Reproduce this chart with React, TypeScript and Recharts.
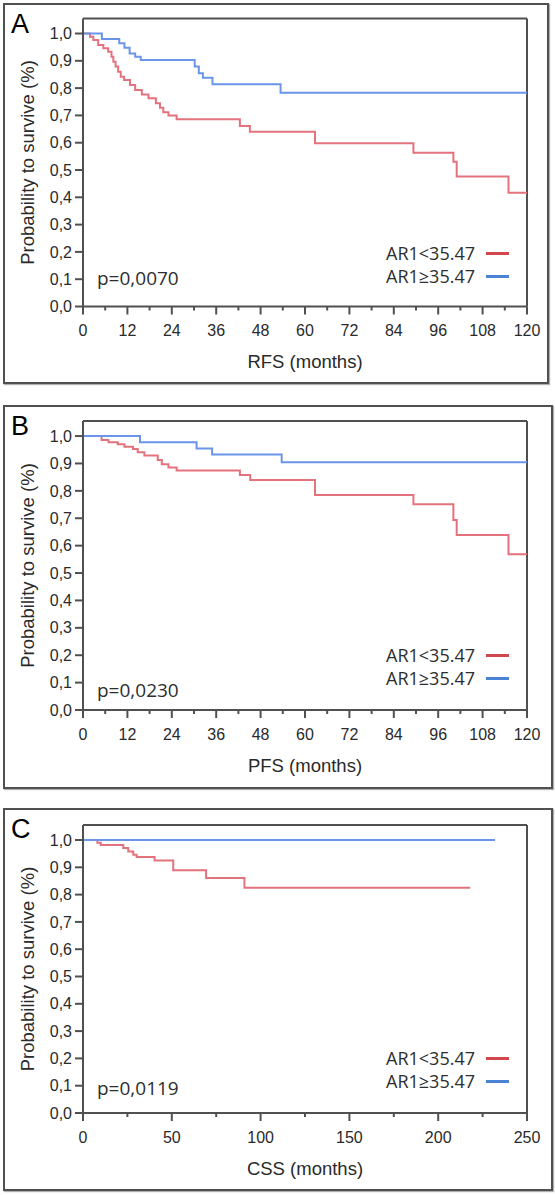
import React from 'react';
import { LineChart, Line, XAxis, YAxis, ReferenceLine, Legend } from 'recharts';

// Kaplan-Meier curves: [months, survival probability]
const groupNames = ['AR1<35.47', 'AR1≥35.47'];
const curveColors = ['#e4727c', '#6a95e8'];
const swatchColors = ['#d2464e', '#4a82d6'];

const survivalTicks = [0, 0.1, 0.2, 0.3, 0.4, 0.5, 0.6, 0.7, 0.8, 0.9, 1];
const monthTicks = [0, 6, 12, 18, 24, 30, 36, 42, 48, 54, 60, 66, 72, 78, 84, 90, 96, 102, 108, 114, 120];
const cssTicks = [0, 25, 50, 75, 100, 125, 150, 175, 200, 225, 250];

const rfsLow: [number, number][] = [
  [0, 1], [1.9, 0.988], [2.8, 0.976], [4.1, 0.958], [5.5, 0.946], [6.8, 0.933], [7.7, 0.915],
  [8.2, 0.897], [8.8, 0.879], [9.5, 0.86], [10.2, 0.842], [11.1, 0.83], [12.7, 0.811],
  [14.1, 0.793], [15.9, 0.777], [17.7, 0.763], [19.7, 0.745], [20.8, 0.728], [21.7, 0.712],
  [23.1, 0.7], [25.3, 0.686], [42.4, 0.661], [45.1, 0.64], [62.7, 0.598], [89.3, 0.563],
  [100.1, 0.53], [101, 0.476], [115, 0.417], [120, 0.417],
];
const rfsHigh: [number, number][] = [
  [0, 1], [5.1, 0.98], [9.8, 0.964], [11.2, 0.948], [12.6, 0.927], [14.1, 0.915], [15.6, 0.903],
  [30.2, 0.879], [31.3, 0.854], [32.4, 0.838], [35, 0.814], [53.4, 0.783], [120, 0.783],
];
const pfsLow: [number, number][] = [
  [0, 1], [5, 0.986], [6.9, 0.977], [9.4, 0.97], [11.2, 0.961], [13.5, 0.953], [14.8, 0.941],
  [16.6, 0.929], [20.2, 0.913], [21.3, 0.897], [23.1, 0.885], [25.3, 0.874], [42.4, 0.858],
  [45.2, 0.84], [62.7, 0.785], [89.3, 0.751], [100.1, 0.694], [101, 0.639], [115, 0.569],
  [120, 0.569],
];
const pfsHigh: [number, number][] = [
  [0, 1], [15.4, 0.977], [30.7, 0.955], [34.9, 0.933], [53.7, 0.904], [120, 0.904],
];
const cssLow: [number, number][] = [
  [0, 1], [8.1, 0.99], [10, 0.982], [22.7, 0.971], [25.5, 0.958], [28.3, 0.946], [30.2, 0.938],
  [40.3, 0.925], [50.8, 0.889], [69.3, 0.861], [90.9, 0.825], [218, 0.825],
];
const cssHigh: [number, number][] = [
  [0, 1], [232, 1],
];

const panelLetters = ['A', 'B', 'C'];
const axisTitles = ['RFS (months)', 'PFS (months)', 'CSS (months)'];
const pValues = ['p=0,0070', 'p=0,0230', 'p=0,0119'];

const toRows = (pts: [number, number][]) => pts.map(([t, s]) => ({ t, s }));

const panels = [
  { low: rfsLow, high: rfsHigh, ticks: monthTicks, major: 12, xMax: 120,
    frameTop: 3, frameBottom: 384, frameRight: 549, plotTop: 18.5, axisY: 306.5, pY: 278, legendY: 253 },
  { low: pfsLow, high: pfsHigh, ticks: monthTicks, major: 12, xMax: 120,
    frameTop: 405, frameBottom: 789, frameRight: 553, plotTop: 421, axisY: 710, pY: 690, legendY: 655 },
  { low: cssLow, high: cssHigh, ticks: cssTicks, major: 50, xMax: 250,
    frameTop: 808, frameBottom: 1191, frameRight: 553, plotTop: 825, axisY: 1113, pY: 1088, legendY: 1058 },
];

const W = 555;
const PLOT_LEFT = 83;
const PLOT_RIGHT = 527;
const AXIS = '#505050';
const TICK_FONT = { fontFamily: '"Liberation Sans", Arial, sans-serif', fontSize: 16, fill: '#2a2a2a' };
const SEGOE = '"Open Sans", "Noto Sans", sans-serif';

const XTick = (props: any) => {
  const { x, y, payload, major } = props;
  const isMajor = payload.value % major === 0;
  return (
    <g>
      <line x1={x} x2={x} y1={y} y2={y + (isMajor ? 8 : 4)} stroke={AXIS} strokeWidth={2} />
      {isMajor && (
        <text x={x} y={y + 24} textAnchor="middle" dominantBaseline="central" {...TICK_FONT}>
          {payload.value}
        </text>
      )}
    </g>
  );
};

const KMLegend = ({ top }: { top: number }) => (
  <div style={{ position: 'relative', width: W, height: 0 }}>
    {groupNames.map((name, i) => (
      <React.Fragment key={name}>
        <div
          style={{
            position: 'absolute', right: W - 475, top: top + i * 23 - 9, lineHeight: '18px',
            fontFamily: SEGOE, fontSize: 18, color: '#2e2e2e', whiteSpace: 'nowrap',
          }}
        >
          {name}
        </div>
        <div
          style={{
            position: 'absolute', left: 486, width: 23, height: 3, top: top + i * 23 - 1.5,
            background: swatchColors[i],
          }}
        />
      </React.Fragment>
    ))}
  </div>
);

const Panel = ({ idx }: { idx: number }) => {
  const p = panels[idx];
  const height = p.frameBottom - p.frameTop;
  const xAxisHeight = p.frameBottom - p.axisY;
  const rel = (pageY: number) => pageY - p.frameTop;
  const plotMid = rel((p.plotTop + p.axisY) / 2);

  return (
    <>
      <div
        style={{
          position: 'absolute', left: 3, top: p.frameTop, width: p.frameRight - 3, height,
          border: `2px solid ${AXIS}`, boxSizing: 'border-box', boxShadow: '1px 1px 1px #b0b0b0',
        }}
      />
      <div style={{ position: 'absolute', left: 0, top: p.frameTop }}>
        <LineChart
          width={W}
          height={height}
          margin={{ top: rel(p.plotTop), right: W - PLOT_RIGHT, bottom: 0, left: 23 }}
        >
          <XAxis
            type="number"
            dataKey="t"
            domain={[0, p.xMax]}
            ticks={p.ticks}
            interval={0}
            allowDataOverflow
            height={xAxisHeight}
            tickSize={0}
            tickMargin={0}
            tickLine={false}
            axisLine={{ stroke: AXIS, strokeWidth: 2 }}
            tick={(tp: any) => <XTick {...tp} major={p.major} />}
            label={{
              content: () => (
                <text
                  x={(PLOT_LEFT + PLOT_RIGHT) / 2}
                  y={rel(p.axisY) + 55}
                  textAnchor="middle"
                  dominantBaseline="central"
                  fontFamily={TICK_FONT.fontFamily}
                  fontSize={18.5}
                  fill="#2a2a2a"
                >
                  {axisTitles[idx]}
                </text>
              ),
            }}
          />
          <YAxis
            type="number"
            dataKey="s"
            domain={[0, 1.055]}
            ticks={survivalTicks}
            interval={0}
            allowDataOverflow
            width={PLOT_LEFT - 23}
            tickSize={8}
            tickMargin={3}
            tickLine={{ stroke: AXIS, strokeWidth: 2 }}
            axisLine={{ stroke: AXIS, strokeWidth: 2 }}
            tick={TICK_FONT}
            tickFormatter={(v: number) => v.toFixed(1).replace('.', ',')}
            label={{
              content: () => (
                <text
                  x={27}
                  y={plotMid}
                  transform={`rotate(-90, 27, ${plotMid})`}
                  textAnchor="middle"
                  dominantBaseline="central"
                  fontFamily={TICK_FONT.fontFamily}
                  fontSize={18.5}
                  fill="#2a2a2a"
                >
                  Probability to survive (%)
                </text>
              ),
            }}
          />
          <ReferenceLine x={p.xMax} stroke={AXIS} strokeWidth={2} />
          <ReferenceLine y={1.055} stroke={AXIS} strokeWidth={2} />
          <Line
            data={toRows(p.low)}
            dataKey="s"
            name={groupNames[0]}
            type="stepAfter"
            stroke={curveColors[0]}
            strokeWidth={2}
            dot={false}
            isAnimationActive={false}
          />
          <Line
            data={toRows(p.high)}
            dataKey="s"
            name={groupNames[1]}
            type="stepAfter"
            stroke={curveColors[1]}
            strokeWidth={2}
            dot={false}
            isAnimationActive={false}
          />
          <Legend
            layout="vertical"
            align="center"
            verticalAlign="middle"
            wrapperStyle={{ left: 0, top: 0, width: W, height: 0 }}
            content={() => <KMLegend top={rel(p.legendY)} />}
          />
        </LineChart>
      </div>
      <div
        style={{
          position: 'absolute', left: 11, top: p.frameTop + 8, lineHeight: '27px',
          fontFamily: TICK_FONT.fontFamily, fontSize: 27, color: '#000',
        }}
      >
        {panelLetters[idx]}
      </div>
      <div
        style={{
          position: 'absolute', left: 97, top: p.pY - 9.5, lineHeight: '19px',
          fontFamily: SEGOE, fontSize: 19, color: '#2e2e2e', whiteSpace: 'nowrap',
        }}
      >
        {pValues[idx]}
      </div>
    </>
  );
};

export default function App() {
  return (
    <div style={{ position: 'absolute', left: 0, top: 0, width: W, height: 1195, background: '#fff' }}>
      {panels.map((_, i) => (
        <Panel key={panelLetters[i]} idx={i} />
      ))}
    </div>
  );
}
